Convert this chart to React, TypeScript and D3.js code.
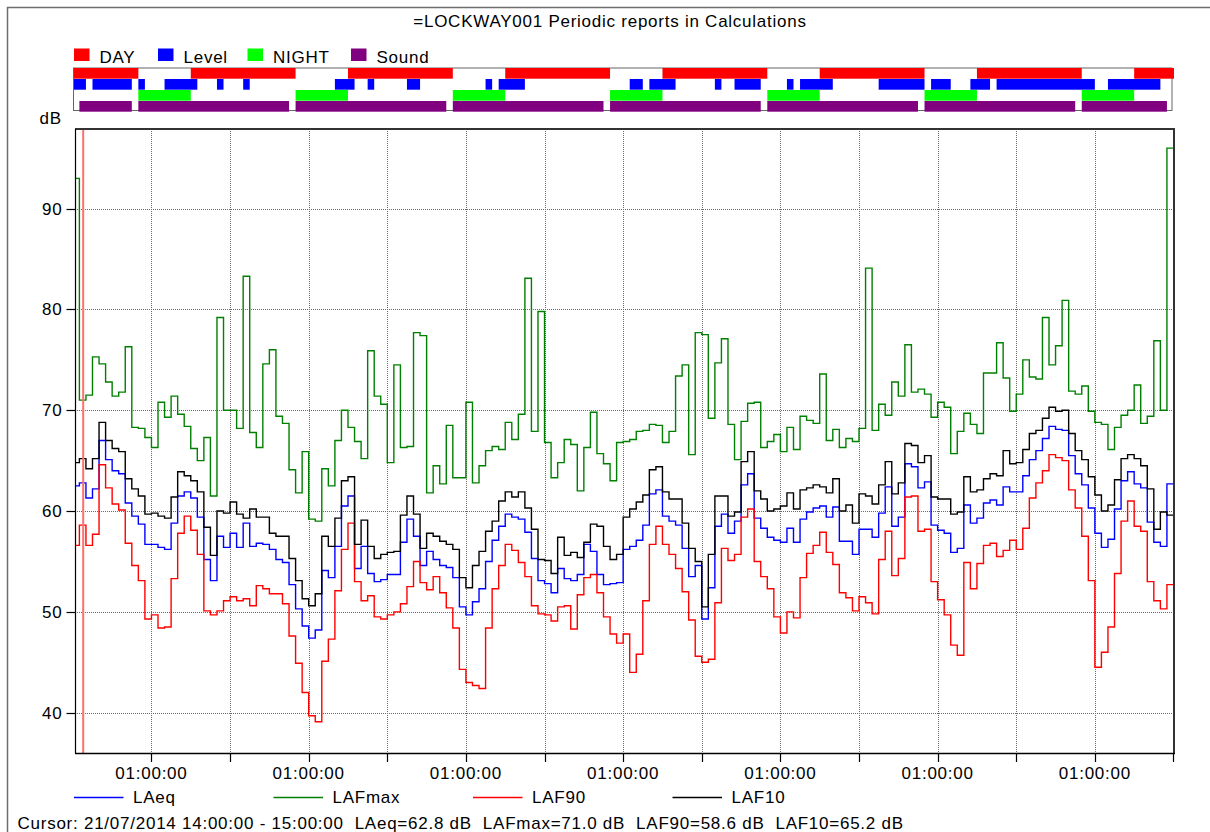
import React, { useEffect, useRef } from 'react'
import * as d3 from 'd3'

// hourly results, first bin is 13:00-14:00 on 21/07/2014 (hour -1, hour 0 = 14:00)
const firstHour = -1

const laeq = [
  62.5, 62.8, 61.3, 62.2, 67.0, 65.1, 64.0, 63.7, 60.8, 59.5, 58.7,
  56.7, 56.7, 56.4, 56.2, 58.8, 61.5, 61.9, 61.3, 59.4, 55.2,
  53.1, 57.5, 56.4, 57.8, 56.4, 58.8, 56.5, 56.8, 56.7, 56.2,
  55.2, 54.9, 52.7, 50.3, 48.6, 47.4, 48.2, 54.1, 53.4, 56.5,
  60.5, 61.5, 54.3, 56.5, 53.8, 53.0, 53.2, 53.7, 53.7, 56.9,
  59.2, 57.5, 54.6, 56.0, 55.2, 54.6, 54.4, 53.4, 50.5, 49.7,
  51.0, 52.3, 55.0, 57.1, 58.5, 59.7, 59.4, 59.2, 57.9, 55.3,
  53.1, 52.8, 51.9, 54.3, 53.3, 53.1, 53.7, 56.7, 56.0, 53.7,
  52.7, 52.8, 52.9, 56.2, 56.5, 57.1, 58.6, 61.7, 62.1, 59.5,
  59.0, 58.6, 56.3, 53.5, 54.6, 49.3, 52.4, 58.5, 59.7, 57.8,
  59.0, 62.6, 63.7, 59.3, 58.3, 57.4, 57.1, 56.9, 58.3, 56.9,
  59.2, 59.9, 60.3, 60.5, 59.4, 60.4, 57.0, 57.0, 55.7, 58.2,
  58.2, 57.4, 59.8, 62.4, 58.5, 59.4, 64.7, 64.4, 62.3, 62.9,
  58.6, 58.1, 57.8, 55.9, 56.3, 60.6, 58.8, 59.3, 60.8, 61.1,
  60.6, 62.4, 61.9, 61.9, 63.5, 65.1, 66.0, 67.2, 68.4, 68.1,
  68.0, 65.5, 63.7, 62.6, 60.3, 57.8, 56.4, 57.2, 60.2, 63.0,
  63.9, 62.7, 62.3, 58.9, 56.9, 56.5, 62.7
]

const lafmax = [
  93.0, 71.0, 71.5, 75.3, 74.6, 72.8, 71.4, 71.8, 76.3, 68.3, 68.2,
  67.3, 66.3, 70.8, 69.3, 71.4, 69.6, 68.4, 66.2, 65.0, 67.3,
  61.5, 79.2, 70.0, 70.0, 68.2, 83.3, 67.8, 66.3, 74.6, 76.0,
  69.4, 68.7, 64.1, 61.8, 65.9, 59.2, 59.0, 64.2, 62.5, 67.0,
  70.0, 68.3, 66.9, 65.2, 75.9, 71.4, 70.6, 64.8, 74.5, 66.3,
  66.4, 77.7, 77.4, 61.8, 64.5, 62.7, 68.5, 63.3, 63.3, 70.8,
  62.8, 64.5, 66.0, 66.4, 66.1, 68.8, 67.1, 69.6, 83.1, 67.9,
  79.8, 66.8, 63.3, 64.8, 67.1, 66.6, 62.0, 66.3, 69.8, 65.7,
  64.7, 63.0, 66.8, 66.9, 67.1, 67.9, 68.0, 68.6, 68.5, 66.8,
  67.9, 73.4, 74.5, 65.6, 77.7, 77.5, 69.2, 74.7, 77.1, 68.6,
  65.1, 68.9, 70.7, 70.8, 66.3, 66.9, 67.6, 65.9, 68.3, 66.1,
  69.4, 69.0, 68.7, 73.6, 67.0, 68.1, 66.3, 67.2, 66.9, 68.2,
  84.1, 68.0, 70.6, 69.5, 72.8, 71.4, 76.5, 71.8, 72.1, 71.6,
  69.3, 70.8, 70.3, 65.7, 67.9, 69.7, 68.6, 67.7, 73.7, 73.7,
  76.7, 73.2, 69.9, 71.6, 75.0, 73.3, 73.1, 79.2, 74.5, 76.4,
  80.9, 71.9, 71.6, 72.4, 69.9, 68.8, 68.6, 66.1, 68.3, 69.5,
  70.0, 72.5, 68.7, 69.4, 76.9, 70.0, 96.0
]

const laf90 = [
  56.6, 58.6, 56.6, 57.7, 64.6, 62.3, 60.7, 60.1, 56.8, 54.6, 53.1,
  49.3, 49.7, 48.4, 48.5, 53.3, 57.8, 59.5, 58.1, 55.7, 50.1,
  49.7, 50.1, 51.1, 51.5, 51.1, 51.3, 50.6, 52.6, 52.3, 51.8,
  51.8, 50.8, 47.6, 44.9, 42.0, 39.7, 39.1, 45.1, 47.3, 52.1,
  56.2, 58.8, 53.0, 51.1, 51.6, 49.5, 49.3, 49.7, 50.0, 50.8,
  52.5, 55.0, 52.9, 52.2, 53.5, 51.9, 50.4, 48.4, 44.3, 43.0,
  42.7, 42.4, 48.4, 52.3, 54.6, 56.7, 56.1, 54.9, 53.5, 50.6,
  49.8, 49.7, 49.1, 50.5, 50.6, 48.3, 51.7, 53.4, 53.7, 51.9,
  49.5, 47.8, 46.9, 47.8, 44.0, 45.8, 51.1, 56.7, 58.5, 56.7,
  55.7, 54.3, 52.0, 49.2, 45.6, 45.0, 45.3, 50.9, 56.3, 55.1,
  55.7, 59.4, 60.2, 55.0, 53.5, 52.3, 49.5, 47.9, 50.0, 49.4,
  53.4, 55.8, 56.6, 57.9, 55.9, 54.7, 51.9, 51.4, 50.1, 51.5,
  50.9, 49.8, 55.2, 58.0, 53.6, 55.3, 61.4, 61.5, 58.0, 58.2,
  53.0, 51.2, 49.7, 46.7, 45.7, 54.9, 52.3, 54.8, 56.6, 56.8,
  55.5, 56.1, 57.1, 56.2, 58.3, 61.3, 62.8, 64.0, 65.6, 65.3,
  65.0, 62.1, 60.3, 57.5, 53.1, 44.5, 46.0, 48.5, 53.8, 59.0,
  61.0, 58.5, 58.0, 53.0, 51.1, 50.3, 52.7
]

const laf10 = [
  64.8, 65.2, 64.2, 65.2, 68.8, 67.0, 66.2, 65.9, 63.2, 62.2, 61.5,
  59.7, 59.8, 59.5, 59.3, 61.4, 63.9, 63.5, 63.0, 61.9, 58.4,
  55.6, 60.0, 59.8, 60.9, 59.7, 59.3, 60.2, 59.4, 59.4, 57.8,
  57.5, 57.5, 55.3, 53.1, 51.3, 50.6, 51.8, 57.5, 56.5, 59.3,
  63.0, 63.4, 56.7, 59.1, 56.5, 55.3, 55.7, 55.9, 56.0, 59.6,
  61.5, 59.7, 56.3, 57.8, 57.5, 57.0, 56.7, 56.2, 53.4, 52.4,
  54.6, 56.0, 58.0, 59.0, 61.0, 61.9, 61.4, 61.9, 60.3, 58.2,
  55.2, 55.1, 53.8, 57.4, 55.6, 55.9, 55.4, 56.9, 58.7, 58.5,
  56.5, 55.2, 55.7, 59.4, 60.2, 60.9, 61.6, 64.1, 64.4, 61.9,
  61.2, 61.2, 58.8, 56.3, 55.0, 50.5, 55.7, 61.5, 61.5, 59.5,
  59.9, 64.9, 65.9, 62.0, 61.2, 60.0, 60.2, 60.5, 61.8, 60.2,
  62.1, 62.3, 62.6, 62.4, 61.8, 63.2, 60.0, 60.6, 58.8, 61.7,
  61.5, 60.7, 62.6, 64.9, 61.7, 62.8, 66.7, 66.5, 64.8, 65.5,
  61.4, 61.2, 61.2, 59.7, 59.9, 63.4, 61.9, 62.1, 63.2, 63.7,
  63.5, 66.0, 64.7, 64.8, 66.1, 67.7, 68.0, 69.2, 70.3, 69.9,
  70.0, 67.7, 66.0, 65.1, 63.4, 61.6, 60.0, 60.6, 63.1, 65.2,
  65.6, 65.2, 64.5, 62.2, 58.2, 59.9, 59.6
]

// period markers, [start hour, end hour]
const dayPeriods = [[-1, 9], [17, 33], [41, 57], [65, 81], [89, 105], [113, 129], [137, 153], [161, 168]]
const levelPeriods = [
  [-1, 1], [2, 8], [9, 10], [13, 18], [21, 22], [25, 26], [39, 42], [44, 45], [50, 52],
  [62, 63], [64, 68], [84, 86], [87, 91], [97, 98], [100, 104], [108, 109], [110, 115],
  [122, 129], [130, 133], [136, 139], [140, 155], [157, 165]
]
const nightPeriods = [[9, 17], [33, 41], [57, 65], [81, 89], [105, 113], [129, 137], [153, 161]]
const soundPeriods = [[0, 8], [9, 32], [33, 56], [57, 80], [81, 104], [105, 128], [129, 152], [153, 166]]

const periodNames = ['DAY', 'Level', 'NIGHT', 'Sound']
const seriesNames = ['LAeq', 'LAFmax', 'LAF90', 'LAF10']

const gridHours = [11, 23, 35, 47, 59, 71, 83, 95, 107, 119, 131, 143, 155, 167]
const labelHours = [11, 35, 59, 83, 107, 131, 155]
const tickLabel = '01:00:00'
const yTicks = [40, 50, 60, 70, 80, 90]
const cursorHour = 0.58

const title = '=LOCKWAY001 Periodic reports in Calculations'
const cursorText = 'Cursor: 21/07/2014 14:00:00 - 15:00:00  LAeq=62.8 dB  LAFmax=71.0 dB  LAF90=58.6 dB  LAF10=65.2 dB'

const periodColors = { DAY: '#ff0000', Level: '#0000ff', NIGHT: '#00ff00', Sound: '#800080' }
const seriesColors = { LAeq: '#0000ff', LAFmax: '#008000', LAF90: '#ff0000', LAF10: '#000000' }

const FONT = '"Liberation Sans", Arial, sans-serif'

function App() {
  const ref = useRef(null)

  useEffect(() => {
    const width = 1210
    const height = 832
    const m = { left: 75, right: 1174, top: 129, bottom: 753 }

    const svg = d3.select(ref.current)
    svg.selectAll('*').remove()

    svg.append('rect').attr('width', width).attr('height', height).attr('fill', '#fff')

    // outer frame
    svg.append('rect')
      .attr('x', 7.5).attr('y', 7.5)
      .attr('width', width + 20).attr('height', height + 20)
      .attr('fill', 'none').attr('stroke', '#6e6e6e').attr('stroke-width', 1.5)

    const txt = (g, x, y, s, anchor = 'start') => g.append('text')
      .attr('x', x).attr('y', y)
      .attr('text-anchor', anchor)
      .style('font-family', FONT)
      .style('font-size', '17px')
      .style('letter-spacing', '0.75px')
      .style('white-space', 'pre')
      .attr('fill', '#000')
      .text(s)

    txt(svg, 610, 27, title, 'middle')

    const x = d3.scaleLinear().domain([-0.67, 167.08]).range([m.left, m.right])
    const y = d3.scaleLinear().domain([36, 97.9]).range([m.bottom, m.top])

    // top legend
    const legendX = [74, 158, 247.5, 351]
    periodNames.forEach((name, i) => {
      svg.append('rect')
        .attr('x', legendX[i]).attr('y', 48.5)
        .attr('width', 15.5).attr('height', 12.5)
        .attr('fill', periodColors[name])
      txt(svg, legendX[i] + 25.5, 62.5, name)
    })

    // period bands
    const bandLeft = 74
    const bandRight = 1171.5
    const bandTop = 68
    const rowH = 11
    svg.append('rect')
      .attr('x', bandLeft - 0.5).attr('y', bandTop)
      .attr('width', bandRight - bandLeft + 1).attr('height', rowH * 4 - 1.5)
      .attr('fill', 'none').attr('stroke', '#666').attr('stroke-width', 1)

    const periods = [dayPeriods, levelPeriods, nightPeriods, soundPeriods]
    periods.forEach((list, row) => {
      svg.append('g')
        .selectAll('rect')
        .data(list)
        .join('rect')
        .attr('x', d => Math.max(bandLeft, x(d[0])))
        .attr('y', bandTop + row * rowH)
        .attr('width', d => Math.min(m.right, x(d[1])) - Math.max(bandLeft, x(d[0])))
        .attr('height', rowH - 0.3)
        .attr('fill', periodColors[periodNames[row]])
    })

    // grid
    const grid = svg.append('g')
      .attr('stroke', '#6a6a6a')
      .attr('stroke-width', 1)
      .attr('stroke-dasharray', '1,1')
    grid.selectAll('.hg')
      .data(yTicks)
      .join('line')
      .attr('x1', m.left).attr('x2', m.right)
      .attr('y1', d => Math.round(y(d)) + 0.5)
      .attr('y2', d => Math.round(y(d)) + 0.5)
    grid.selectAll('.vg')
      .data(gridHours)
      .join('line')
      .attr('x1', d => Math.round(x(d)) + 0.5)
      .attr('x2', d => Math.round(x(d)) + 0.5)
      .attr('y1', m.top).attr('y2', m.bottom)

    // series, drawn as hourly steps
    svg.append('defs').append('clipPath').attr('id', 'plotClip')
      .append('rect')
      .attr('x', m.left).attr('y', m.top)
      .attr('width', m.right - m.left).attr('height', m.bottom - m.top)

    const allSeries = { LAeq: laeq, LAFmax: lafmax, LAF90: laf90, LAF10: laf10 }
    const stepLine = d3.line()
      .x(d => x(d[0]))
      .y(d => y(d[1]))
      .curve(d3.curveStepAfter)

    const lines = svg.append('g').attr('clip-path', 'url(#plotClip)')
    seriesNames.forEach(name => {
      const vals = allSeries[name]
      const pts = vals.map((v, i) => [firstHour + i, v])
      pts.push([firstHour + vals.length, vals[vals.length - 1]])
      lines.append('path')
        .attr('d', stepLine(pts))
        .attr('fill', 'none')
        .attr('stroke', seriesColors[name])
        .attr('stroke-width', 1.4)
        .attr('stroke-linejoin', 'miter')
    })

    // cursor
    svg.append('line')
      .attr('x1', x(cursorHour)).attr('x2', x(cursorHour))
      .attr('y1', m.top).attr('y2', m.bottom)
      .attr('stroke', '#ff6f6f').attr('stroke-width', 2)

    // plot frame
    svg.append('line')
      .attr('x1', m.left).attr('x2', m.right + 1)
      .attr('y1', m.top).attr('y2', m.top)
      .attr('stroke', '#333').attr('stroke-width', 2)
    svg.append('line')
      .attr('x1', m.right).attr('x2', m.right)
      .attr('y1', m.top).attr('y2', m.bottom)
      .attr('stroke', '#333').attr('stroke-width', 2)
    svg.append('line')
      .attr('x1', m.left + 0.5).attr('x2', m.left + 0.5)
      .attr('y1', m.top).attr('y2', m.bottom)
      .attr('stroke', '#000').attr('stroke-width', 1.2)
    svg.append('line')
      .attr('x1', m.left).attr('x2', m.right + 1)
      .attr('y1', m.bottom + 0.5).attr('y2', m.bottom + 0.5)
      .attr('stroke', '#000').attr('stroke-width', 1.5)

    // y axis
    svg.selectAll('.ytick')
      .data(yTicks)
      .join('line')
      .attr('x1', 66.5).attr('x2', m.left)
      .attr('y1', d => Math.round(y(d)) + 0.5)
      .attr('y2', d => Math.round(y(d)) + 0.5)
      .attr('stroke', '#000').attr('stroke-width', 1.2)
    yTicks.forEach(v => txt(svg, 62.5, y(v) + 6, String(v), 'end'))
    txt(svg, 39.5, 124, 'dB')

    // x axis
    svg.selectAll('.xtick')
      .data(gridHours)
      .join('line')
      .attr('x1', d => Math.round(x(d)) + 0.5)
      .attr('x2', d => Math.round(x(d)) + 0.5)
      .attr('y1', m.bottom).attr('y2', m.bottom + 9)
      .attr('stroke', '#000').attr('stroke-width', 1.2)
    labelHours.forEach(h => txt(svg, x(h), 779, tickLabel, 'middle'))

    // bottom legend
    seriesNames.forEach((name, i) => {
      const lx = 74 + i * 199.5
      svg.append('line')
        .attr('x1', lx).attr('x2', lx + 49.5)
        .attr('y1', 797.5).attr('y2', 797.5)
        .attr('stroke', seriesColors[name]).attr('stroke-width', 1.4)
      txt(svg, lx + 59, 803, name)
    })

    txt(svg, 17.5, 829, cursorText)
  }, [])

  return (
    <svg
      ref={ref}
      width={1210}
      height={832}
      style={{ position: 'absolute', left: 0, top: 0, display: 'block' }}
    />
  )
}

export default App
